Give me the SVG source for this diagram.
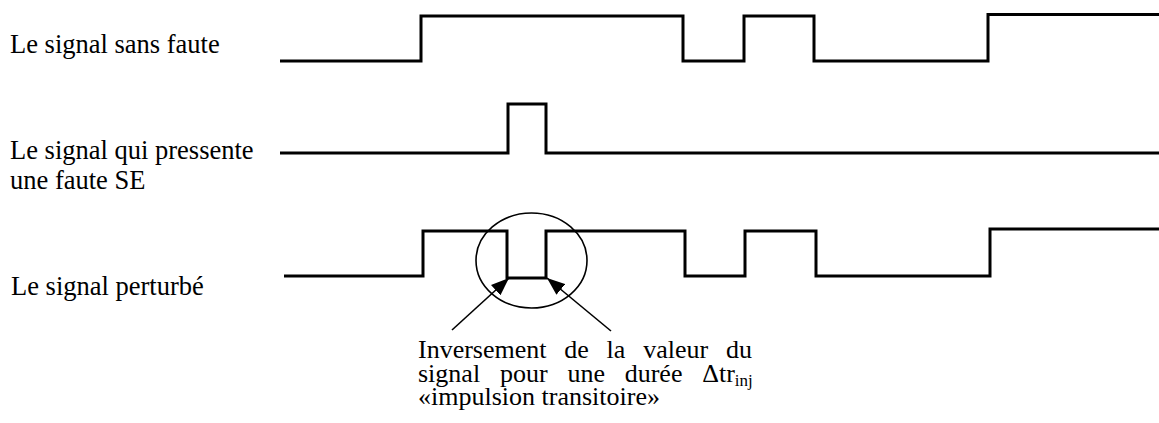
<svg xmlns="http://www.w3.org/2000/svg" width="1159" height="423" viewBox="0 0 1159 423">
  <style>
    .lbl { font-family: "Liberation Serif", "Times New Roman", serif; font-size: 26.5px; fill: #000; }
    .ann { font-family: "Liberation Serif", "Times New Roman", serif; font-size: 26px; fill: #000; }
    .wave { fill: none; stroke: #000; stroke-width: 3; stroke-linejoin: miter; }
    .thin { fill: none; stroke: #000; stroke-width: 1.6; }
  </style>
  <defs>
    <marker id="arrow" viewBox="0 0 18 14" refX="18" refY="7" markerWidth="18" markerHeight="14" markerUnits="userSpaceOnUse" orient="auto">
      <path d="M0,0 L18,7 L0,14 z" fill="#000"/>
    </marker>
  </defs>
  <rect width="1159" height="423" fill="#fff"/>

  <g id="signal-sans-faute">
    <text class="lbl" x="10" y="53">Le signal sans faute</text>
    <path class="wave" d="M280,61 H421 V16 H683 V61 H744 V16 H814 V61 H988 V14.5 H1159"/>
  </g>

  <g id="signal-faute-se">
    <text class="lbl" x="10" y="159">Le signal qui pressente</text>
    <text class="lbl" x="10" y="189">une faute SE</text>
    <path class="wave" d="M280,153 H508 V104 H546 V153 H1159"/>
  </g>

  <g id="signal-perturbe">
    <text class="lbl" x="11" y="295">Le signal perturbé</text>
    <path class="wave" d="M284,276 H423 V231 H507 V278 H546 V231 H685 V276 H745 V231 H816 V276 H990 V229 H1159"/>
  </g>

  <g id="zone-inversion">
    <ellipse class="thin" cx="531.5" cy="260.5" rx="55.5" ry="47.5"/>
  </g>

  <g id="connectors">
    <line class="thin" x1="452" y1="330" x2="509" y2="278" marker-end="url(#arrow)"/>
    <line class="thin" x1="611" y1="331" x2="547" y2="278" marker-end="url(#arrow)"/>
  </g>

  <g id="annotation">
    <text class="ann" y="358"><tspan x="418">Inversement</tspan><tspan x="564.3">de</tspan><tspan x="606.6">la</tspan><tspan x="643.2">valeur</tspan><tspan x="752" text-anchor="end">du</tspan></text>
    <text class="ann" y="381.5"><tspan x="418">signal</tspan><tspan x="499.9">pour</tspan><tspan x="567.4">une</tspan><tspan x="624.7">durée</tspan><tspan x="702.2">Δtr</tspan><tspan font-size="17" dy="4">inj</tspan></text>
    <text class="ann" x="418" y="405">«impulsion transitoire»</text>
  </g>
</svg>
